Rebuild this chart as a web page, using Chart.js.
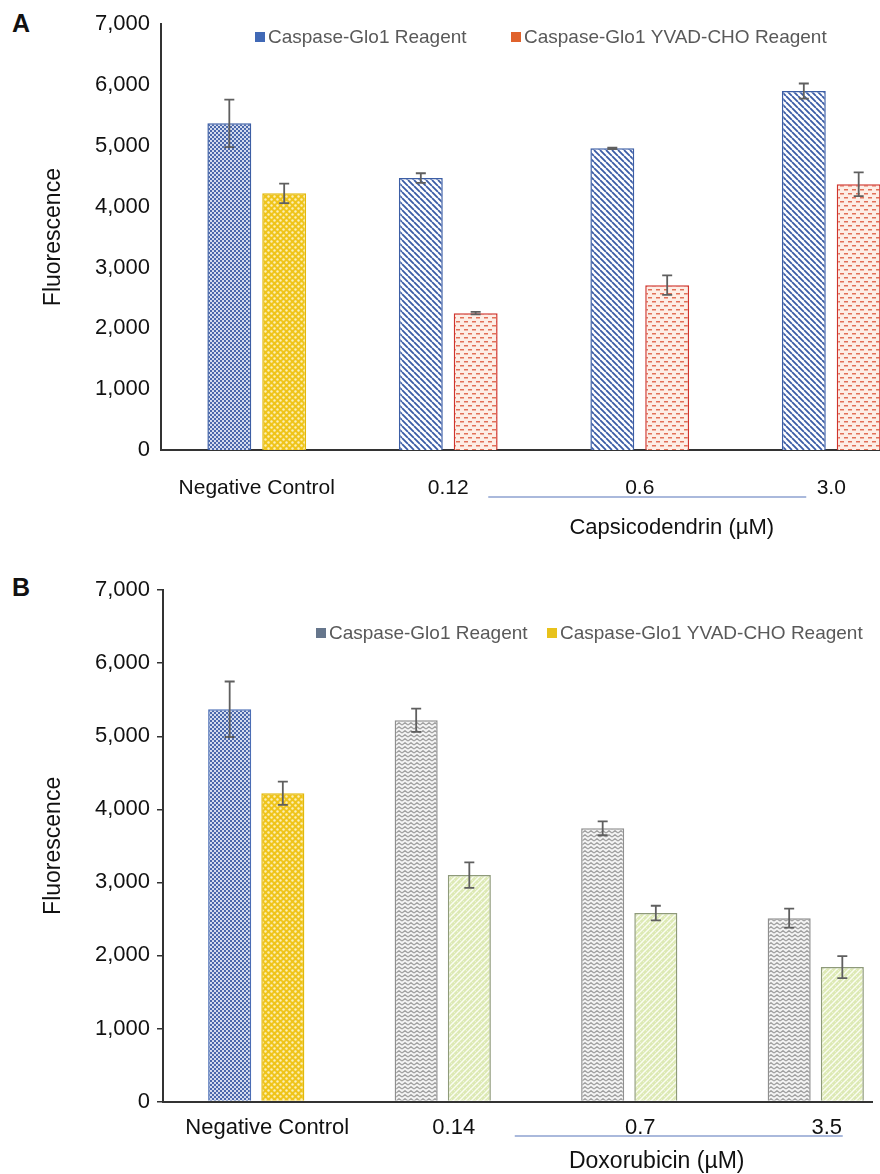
<!DOCTYPE html>
<html>
<head>
<meta charset="utf-8">
<script src="https://cdn.jsdelivr.net/npm/chart.js@4.4.0/dist/chart.umd.min.js"></script>
<style>
  body { margin: 0; background: #fff; width: 880px; height: 1174px; overflow: hidden; position: relative; font-family: 'Liberation Sans', Arial, sans-serif; }
  .panel { position: absolute; left: 0; overflow: hidden; }
  .panel canvas { display: block; }
  .tag { position: absolute; left: 12px; font-weight: bold; font-size: 25px; line-height: 25px; color: #111; }
</style>
</head>
<body>
<div class="tag" style="top:11px">A</div>
<div class="panel" style="top:0;width:880px;height:560px"><canvas id="chartA" width="928" height="560"></canvas></div>
<div class="tag" style="top:575px">B</div>
<div class="panel" style="top:570px;width:873px;height:604px"><canvas id="chartB" width="910" height="604"></canvas></div>
<script>
const seriesNames = ['Caspase-Glo1 Reagent', 'Caspase-Glo1 YVAD-CHO Reagent'];
const yMin = 0, yMax = 7000, yStep = 1000;

// panel A - capsicodendrin
const capsLabels = ['Negative Control', '0.12', '0.6', '3.0'];
const capsGlo = [5370, 4470, 4960, 5900];
const capsGloErr = [390, 80, 12, 125];
const capsYvad = [4220, 2250, 2710, 4370];
const capsYvadErr = [160, 22, 160, 195];

// panel B - doxorubicin
const doxLabels = ['Negative Control', '0.14', '0.7', '3.5'];
const doxGlo = [5370, 5220, 3740, 2510];
const doxGloErr = [380, 160, 95, 130];
const doxYvad = [4220, 3100, 2580, 1840];
const doxYvadErr = [160, 175, 100, 150];

Chart.defaults.font.family = "'Liberation Sans', Arial, sans-serif";
Chart.defaults.devicePixelRatio = 1;

function makePattern(w, h, draw) {
  const c = document.createElement('canvas');
  c.width = w; c.height = h;
  const g = c.getContext('2d');
  draw(g, w, h);
  return g.createPattern(c, 'repeat');
}

const pat = {
  blueCheck: makePattern(4, 4, g => {
    g.fillStyle = '#d3dbee'; g.fillRect(0, 0, 4, 4);
    g.fillStyle = '#4a68ab'; g.fillRect(0, 0, 2, 2); g.fillRect(2, 2, 2, 2);
  }),
  yellowDots: makePattern(6, 6, g => {
    g.fillStyle = '#efc41a'; g.fillRect(0, 0, 6, 6);
    g.fillStyle = '#fcefb8';
    [[1.5, 1.5], [4.5, 4.5]].forEach(([x, y]) => { g.beginPath(); g.arc(x, y, 1.2, 0, Math.PI * 2); g.fill(); });
  }),
  blueStripes: makePattern(6, 6, g => {
    g.fillStyle = '#fff'; g.fillRect(0, 0, 6, 6);
    g.strokeStyle = '#3b5ca6'; g.lineWidth = 1.8;
    g.beginPath();
    [-6, 0, 6].forEach(x => { g.moveTo(x, 0); g.lineTo(x + 6, 6); });
    g.stroke();
  }),
  redDashes: makePattern(8, 8, g => {
    g.fillStyle = '#fdeee6'; g.fillRect(0, 0, 8, 8);
    g.fillStyle = '#e27058';
    g.fillRect(0, 1, 4, 1.5); g.fillRect(4, 5, 4, 1.5);
  }),
  grayZig: makePattern(6, 4, g => {
    g.fillStyle = '#f4f4f4'; g.fillRect(0, 0, 6, 4);
    g.strokeStyle = '#a0a0a0'; g.lineWidth = 1.3;
    g.beginPath(); g.moveTo(0, 3); g.lineTo(3, 0.7); g.lineTo(6, 3); g.stroke();
  }),
  greenWeave: makePattern(6, 6, g => {
    g.fillStyle = '#dde9b4'; g.fillRect(0, 0, 6, 6);
    g.strokeStyle = '#fbfdf2'; g.lineWidth = 1.4;
    g.beginPath();
    [0, 6, 12].forEach(x => { g.moveTo(x, 0); g.lineTo(x - 6, 6); });
    g.stroke();
    g.strokeStyle = '#eef5dc'; g.lineWidth = 0.8;
    g.beginPath();
    [-6, 0, 6].forEach(x => { g.moveTo(x, 0); g.lineTo(x + 6, 6); });
    g.stroke();
  }),
};

// error bars, drawn from the dataset's errors array
const errorBars = {
  id: 'errorBars',
  afterDatasetsDraw(chart, args, opts) {
    const { ctx } = chart;
    const y = chart.scales.y;
    ctx.save();
    ctx.strokeStyle = opts.color;
    ctx.lineWidth = opts.width;
    chart.data.datasets.forEach((ds, i) => {
      chart.getDatasetMeta(i).data.forEach((bar, j) => {
        const v = ds.data[j], e = ds.errors[j];
        const top = y.getPixelForValue(v + e), bot = y.getPixelForValue(v - e);
        ctx.beginPath();
        ctx.moveTo(bar.x, top); ctx.lineTo(bar.x, bot);
        ctx.moveTo(bar.x - opts.cap, top); ctx.lineTo(bar.x + opts.cap, top);
        ctx.moveTo(bar.x - opts.cap, bot); ctx.lineTo(bar.x + opts.cap, bot);
        ctx.stroke();
      });
    });
    ctx.restore();
  }
};

// legend floating inside the plot
const keyLegend = {
  id: 'keyLegend',
  afterDraw(chart, args, opts) {
    const { ctx } = chart;
    ctx.save();
    ctx.font = opts.size + 'px ' + Chart.defaults.font.family;
    ctx.textBaseline = 'middle';
    chart.data.datasets.forEach((ds, i) => {
      const x = opts.xs[i];
      ctx.fillStyle = ds.legendColor;
      ctx.fillRect(x, opts.y - opts.box / 2, opts.box, opts.box);
      ctx.fillStyle = opts.color;
      ctx.fillText(ds.label, x + opts.box + 3, opts.y + 1);
    });
    ctx.restore();
  }
};

// underline + caption for the concentration groups
const groupNote = {
  id: 'groupNote',
  afterDraw(chart, args, opts) {
    const { ctx, chartArea } = chart;
    const x = chart.scales.x;
    ctx.save();
    ctx.strokeStyle = opts.lineColor;
    ctx.lineWidth = 1.5;
    const ly = chartArea.bottom + opts.lineY;
    ctx.beginPath();
    ctx.moveTo(x.getPixelForValue(opts.from) + opts.fromShift, ly);
    ctx.lineTo(x.getPixelForValue(opts.to) + opts.toShift, ly);
    ctx.stroke();
    ctx.fillStyle = opts.color;
    ctx.font = opts.size + 'px ' + Chart.defaults.font.family;
    ctx.textAlign = 'center';
    ctx.textBaseline = 'middle';
    ctx.fillText(opts.text, x.getPixelForValue(opts.textAt) + opts.textShift, chartArea.bottom + opts.textY);
    ctx.restore();
  }
};

function makeChart(id, cfg) {
  const ctx = document.getElementById(id).getContext('2d');
  return new Chart(ctx, {
    type: 'bar',
    data: {
      labels: cfg.labels,
      datasets: [{
        label: seriesNames[0],
        data: cfg.glo,
        errors: cfg.gloErr,
        backgroundColor: cfg.gloFill,
        borderColor: cfg.gloBorder,
        legendColor: cfg.legendColors[0],
        borderWidth: 1.5,
        categoryPercentage: cfg.catPct,
        barPercentage: cfg.barPct,
      }, {
        label: seriesNames[1],
        data: cfg.yvad,
        errors: cfg.yvadErr,
        backgroundColor: cfg.yvadFill,
        borderColor: cfg.yvadBorder,
        legendColor: cfg.legendColors[1],
        borderWidth: 1.5,
        categoryPercentage: cfg.catPct,
        barPercentage: cfg.barPct,
      }]
    },
    options: {
      responsive: false,
      animation: false,
      layout: { padding: { top: cfg.top, right: 1, left: 0, bottom: 0 } },
      scales: {
        x: {
          ticks: { color: '#111', font: { size: cfg.xFont }, padding: cfg.xPad, labelOffset: cfg.labelOffset, maxRotation: 0, autoSkip: false },
          grid: { display: false, drawTicks: false },
          border: { color: '#333', width: 2 },
          afterFit: s => { s.height = cfg.xHeight; }
        },
        y: {
          min: yMin, max: yMax,
          ticks: { stepSize: yStep, color: '#111', font: { size: 22 }, padding: cfg.yPad, callback: v => v.toLocaleString('en-US') },
          grid: cfg.yTicks
            ? { display: true, drawOnChartArea: false, drawTicks: true, tickLength: 6, color: '#333', lineWidth: 1.5 }
            : { display: false, drawTicks: false },
          border: { color: '#333', width: 2 },
          title: { display: true, text: 'Fluorescence', color: '#111', font: { size: 23 }, padding: { top: 40, bottom: 0 } },
          afterFit: s => { s.width = cfg.yWidth; }
        }
      },
      plugins: {
        legend: { display: false },
        tooltip: { enabled: false },
        errorBars: { color: '#5f5f5f', width: 1.8, cap: 5 },
        keyLegend: { xs: cfg.legendX, y: cfg.legendY, box: 10, size: 19, color: '#595959' },
        groupNote: Object.assign({ lineColor: '#8ea2d0', color: '#111' }, cfg.note)
      }
    },
    plugins: [errorBars, keyLegend, groupNote]
  });
}

makeChart('chartA', {
  labels: capsLabels,
  glo: capsGlo, gloErr: capsGloErr,
  yvad: capsYvad, yvadErr: capsYvadErr,
  gloFill: [pat.blueCheck, pat.blueStripes, pat.blueStripes, pat.blueStripes],
  gloBorder: ['#3c5ea5', '#3c5ea5', '#3c5ea5', '#3c5ea5'],
  yvadFill: [pat.yellowDots, pat.redDashes, pat.redDashes, pat.redDashes],
  yvadBorder: ['#e2b80a', '#d0342c', '#d0342c', '#d0342c'],
  legendColors: ['#4169b6', '#e0622c'],
  catPct: 0.573, barPct: 0.8,
  top: 23, xHeight: 110, xFont: 21, xPad: 26, labelOffset: 0,
  yWidth: 161, yPad: 11, yTicks: false,
  legendX: [255, 511], legendY: 37,
  note: { from: 1, to: 3, fromShift: 40, toShift: -25, lineY: 47, text: 'Capsicodendrin (µM)', textAt: 2, textShift: 32, textY: 78, size: 22 }
});

makeChart('chartB', {
  labels: doxLabels,
  glo: doxGlo, gloErr: doxGloErr,
  yvad: doxYvad, yvadErr: doxYvadErr,
  gloFill: [pat.blueCheck, pat.grayZig, pat.grayZig, pat.grayZig],
  gloBorder: ['#4a6db5', '#8f8f8f', '#8f8f8f', '#8f8f8f'],
  yvadFill: [pat.yellowDots, pat.greenWeave, pat.greenWeave, pat.greenWeave],
  yvadBorder: ['#e2b80a', '#8e9a7a', '#8e9a7a', '#8e9a7a'],
  legendColors: ['#66768c', '#e8c21b'],
  catPct: 0.57, barPct: 0.81,
  top: 19, xHeight: 72.5, xFont: 22, xPad: 13, labelOffset: 11,
  yWidth: 163, yPad: 7, yTicks: true,
  legendX: [316, 547], legendY: 63,
  note: { from: 1, to: 3, fromShift: 72, toShift: 27, lineY: 34.5, text: 'Doxorubicin (µM)', textAt: 2, textShift: 27.5, textY: 60, size: 23 }
});
</script>
</body>
</html>
